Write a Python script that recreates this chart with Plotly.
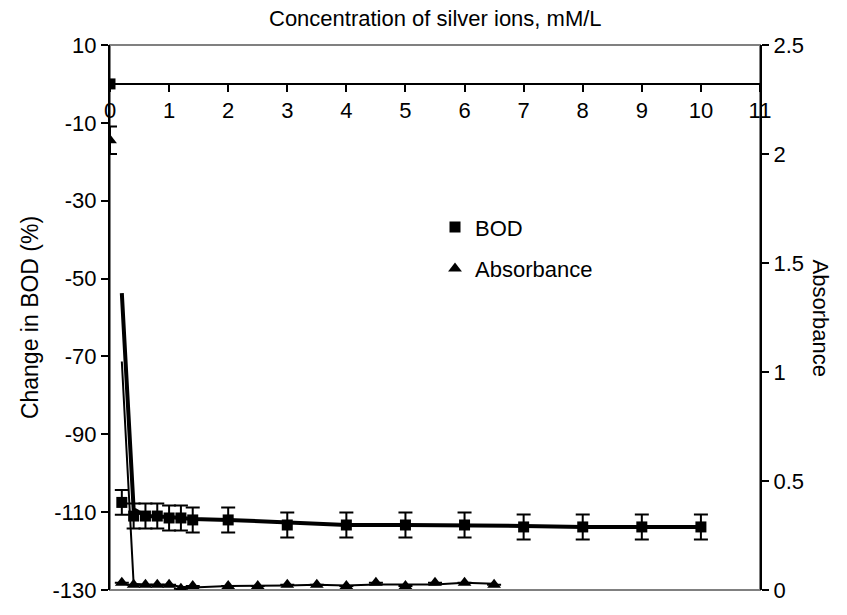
import plotly.graph_objects as go

# BOD change (%) measured at each silver-ion concentration (mM/L)
conc_bod = [0, 0.2, 0.4, 0.6, 0.8, 1.0, 1.2, 1.4, 2, 3, 4, 5, 6, 7, 8, 9, 10]
bod = [0, -107.5, -111, -111, -111, -111.5, -111.5, -112, -112,
       -113.3, -113.3, -113.3, -113.3, -113.8, -113.8, -113.8, -113.8]
bod_err = [0, 3.2, 3.2, 3.2, 3.2, 3.2, 3.2, 3.2, 3.2,
           3.2, 3.2, 3.2, 3.2, 3.2, 3.2, 3.2, 3.2]

# Absorbance at each silver-ion concentration
conc_abs = [0, 0.2, 0.4, 0.6, 0.8, 1.0, 1.2, 1.4, 2, 2.5, 3, 3.5, 4, 4.5, 5, 5.5, 6, 6.5]
absorb = [2.063, 0.033, 0.024, 0.024, 0.024, 0.024, 0.006, 0.018, 0.018,
          0.018, 0.024, 0.024, 0.018, 0.033, 0.018, 0.033, 0.033, 0.024]
abs_err = [0.063] + [0] * (len(absorb) - 1)

x_ticks = list(range(0, 12))
y_ticks = [10, -10, -30, -50, -70, -90, -110, -130]
y2_ticks = [0, 0.5, 1, 1.5, 2, 2.5]
y2_labels = ["0", "0.5", "1", "1.5", "2", "2.5"]


def moving_average(xs, ys, period=2):
    """Two-period moving-average trendline (starts at the second point)."""
    mx, my = [], []
    for i in range(period - 1, len(ys)):
        mx.append(xs[i])
        my.append(sum(ys[i - period + 1:i + 1]) / period)
    return mx, my


FONT = "Liberation Sans, Arial, sans-serif"
FS = 22

fig = go.Figure()

bx, by = moving_average(conc_bod, bod)
ax, ay = moving_average(conc_abs, absorb)

fig.add_trace(go.Scatter(
    x=bx, y=by, mode="lines", line=dict(color="black", width=4),
    showlegend=False, hoverinfo="skip"))
fig.add_trace(go.Scatter(
    x=ax, y=ay, mode="lines", line=dict(color="black", width=2),
    yaxis="y2", showlegend=False, hoverinfo="skip"))

fig.add_trace(go.Scatter(
    x=conc_bod, y=bod, mode="markers", name="BOD",
    marker=dict(symbol="square", size=11, color="black"),
    error_y=dict(type="data", array=bod_err, visible=True,
                 color="black", thickness=2, width=7),
    legend="legend"))
fig.add_trace(go.Scatter(
    x=conc_abs, y=absorb, mode="markers", name="Absorbance",
    marker=dict(symbol="triangle-up", size=12, color="black"),
    error_y=dict(type="data", array=abs_err, visible=True,
                 color="black", thickness=2, width=7),
    yaxis="y2", legend="legend2"))

y_lo, y_hi = -130, 10
x_axis_pos = (0 - y_lo) / (y_hi - y_lo)

fig.update_layout(
    width=847, height=615,
    margin=dict(l=110, r=87, t=45, b=17),
    paper_bgcolor="white", plot_bgcolor="white",
    font=dict(family=FONT, size=FS, color="black"),
    xaxis=dict(
        range=[0, 11], tickvals=x_ticks, ticktext=[str(v) for v in x_ticks],
        anchor="free", position=x_axis_pos, side="bottom",
        showline=True, linecolor="black", linewidth=2,
        ticks="outside", ticklen=7, tickwidth=2, tickcolor="black",
        showgrid=False, zeroline=False,
        tickfont=dict(family=FONT, size=FS, color="black"),
    ),
    yaxis=dict(
        range=[y_lo, y_hi], tickvals=y_ticks, ticktext=[str(v) for v in y_ticks],
        showline=True, linecolor="black", linewidth=2,
        ticks="outside", ticklen=7, tickwidth=2, tickcolor="black",
        showgrid=False, zeroline=False,
        title=dict(text="Change in BOD (%)", font=dict(family=FONT, size=23), standoff=8),
        tickfont=dict(family=FONT, size=FS, color="black"),
    ),
    yaxis2=dict(
        range=[0, 2.5], tickvals=y2_ticks, ticktext=y2_labels,
        overlaying="y", side="right",
        showline=True, linecolor="black", linewidth=2,
        ticks="outside", ticklen=7, tickwidth=2, tickcolor="black",
        showgrid=False, zeroline=False,
        tickfont=dict(family=FONT, size=FS, color="black"),
    ),
    legend=dict(x=0.5, y=(598 - 230) / 553, xanchor="left", yanchor="middle",
                bgcolor="rgba(0,0,0,0)", font=dict(family=FONT, size=FS),
                itemwidth=30),
    legend2=dict(x=0.5, y=(598 - 272) / 553, xanchor="left", yanchor="middle",
                 bgcolor="rgba(0,0,0,0)", font=dict(family=FONT, size=FS),
                 itemwidth=30),
    shapes=[
        dict(type="rect", xref="paper", yref="paper", x0=0, x1=1, y0=0, y1=1,
             line=dict(color="#808080", width=2), layer="below"),
    ],
    annotations=[
        dict(text="Concentration of silver ions, mM/L", xref="paper", yref="paper",
             x=0.5, y=1, yshift=27, showarrow=False, yanchor="middle",
             font=dict(family=FONT, size=FS, color="black")),
        dict(text="Absorbance", xref="paper", yref="paper",
             x=1, xshift=60, y=0.5, textangle=90, showarrow=False,
             xanchor="center", yanchor="middle",
             font=dict(family=FONT, size=FS, color="black")),
    ],
)

fig.write_html("out.html")
